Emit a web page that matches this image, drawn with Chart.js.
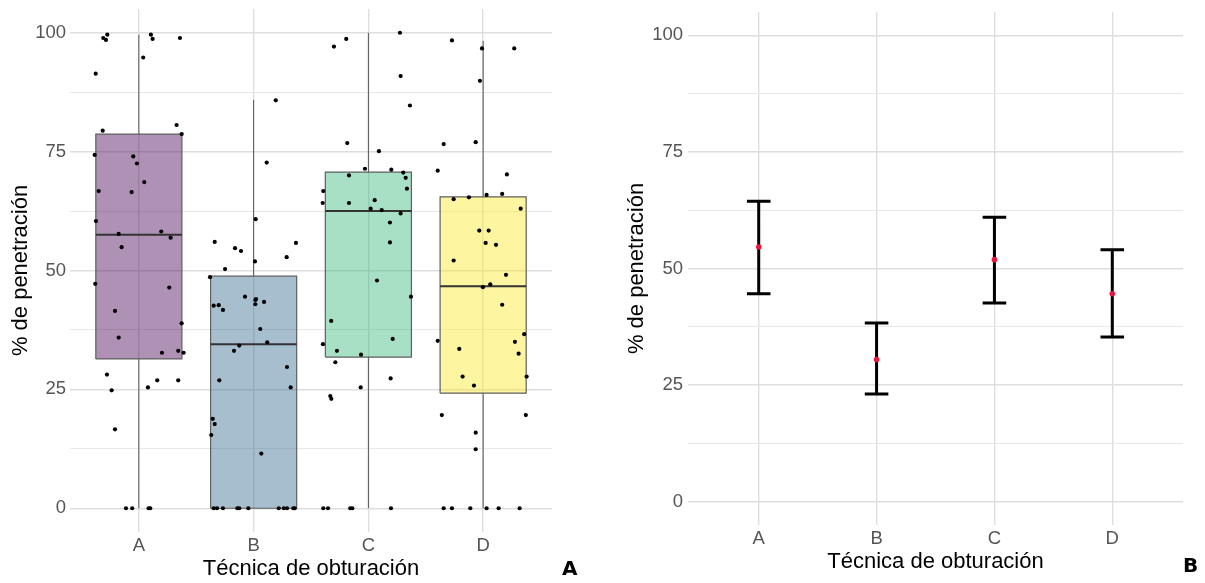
<!DOCTYPE html>
<html>
<head>
<meta charset="utf-8">
<script src="https://cdn.jsdelivr.net/npm/chart.js@4.4.1/dist/chart.umd.min.js"></script>
<style>
  html, body { margin:0; padding:0; background:#fff; }
  #wrap { position:relative; width:1205px; height:583px; overflow:hidden; }
  #c1box { position:absolute; left:0; top:0; width:590px; height:583px; }
  #c2box { position:absolute; left:600px; top:0; width:605px; height:583px; }
  .panel { position:absolute; font-family:"DejaVu Sans", sans-serif; font-weight:bold; font-size:20px; line-height:20px; color:#000; }
</style>
</head>
<body>
<div id="wrap">
  <div id="c1box"><canvas id="c1" width="590" height="583"></canvas></div>
  <div id="c2box"><canvas id="c2" width="605" height="583"></canvas></div>
  <div class="panel" style="left:562px; top:558px;">A</div>
  <div class="panel" style="left:1183px; top:555px;">B</div>
</div>
<script>
// ---------------- DATA ----------------
const categories = ['A', 'B', 'C', 'D'];
const yTickLabels = [0, 25, 50, 75, 100];
const yGridValues = [0, 12.5, 25, 37.5, 50, 62.5, 75, 87.5, 100];

// Panel A: boxplot summaries
const boxQ1     = [31.4, 0.0, 31.8, 24.2];
const boxMedian = [57.5, 34.5, 62.5, 46.7];
const boxQ3     = [78.7, 48.8, 70.7, 65.5];
const whiskerLow  = [0, 0, 0, 0];
const whiskerHigh = [99.6, 85.9, 100, 98.3];

// Panel A: jittered observations [x position, value]
const jitterA = [[0.624,91.4],[0.690,98.9],[0.725,99.6],[0.713,98.5],[1.105,99.6],[1.120,98.7],[1.358,98.9],[1.038,94.8],
  [0.685,79.4],[1.329,80.6],[1.373,78.7],[0.615,74.3],[0.951,74.0],[0.983,72.5],[1.047,68.6],[0.650,66.7],[0.937,66.5],
  [0.626,60.4],[0.824,57.7],[1.195,58.2],[1.277,56.9],[0.850,54.9],[0.620,47.2],[1.265,46.4],[0.792,41.5],[1.373,38.9],
  [0.824,35.9],[1.201,32.7],[1.343,33.1],[1.390,32.7],[0.722,28.1],[0.763,24.8],[0.792,16.6],[1.079,25.4],[1.160,26.9],
  [1.343,26.9],[0.888,0],[0.942,0],[1.085,0],[1.099,0]];
const jitterB = [[2.193,85.8],[2.114,72.7],[2.018,60.8],[1.661,56.0],[1.838,54.7],[1.890,54.1],[2.369,55.8],[2.288,52.8],
  [2.012,51.9],[1.751,50.3],[1.620,48.6],[1.925,44.5],[2.021,44.0],[1.652,42.6],[1.696,42.7],[1.733,41.7],[2.015,43.8],
  [2.015,42.9],[2.091,43.4],[2.058,37.7],[2.119,34.9],[1.829,33.1],[1.875,34.2],[1.701,26.9],[2.291,29.7],[2.323,25.4],
  [1.644,18.8],[1.661,17.7],[1.631,15.4],[2.067,11.5],[1.652,0],[1.681,0],[1.733,0],[1.858,0],[1.875,0],[1.954,0],
  [2.219,0],[2.263,0],[2.291,0],[2.346,0],[2.358,0]];
const jitterC = [[2.700,97.1],[2.807,98.7],[3.275,100],[3.281,90.9],[3.362,84.7],[2.816,76.8],[3.092,75.1],[2.970,71.4],
  [3.200,71.2],[3.304,70.6],[3.325,69.5],[3.336,67.2],[2.831,70.0],[2.607,66.7],[2.602,64.2],[2.831,64.2],[3.055,64.8],
  [3.020,63.0],[3.116,62.7],[3.281,62.0],[3.188,60.1],[3.188,55.9],[3.075,47.9],[3.371,44.5],[2.676,39.4],[2.604,34.5],
  [2.726,33.1],[2.936,32.3],[3.212,35.6],[2.712,30.7],[3.194,27.3],[2.933,25.4],[2.668,23.6],[2.677,23.0],[2.607,0],
  [2.648,0],[2.842,0],[2.860,0],[3.197,0]];
const jitterD = [[3.728,98.4],[3.990,96.7],[4.271,96.7],[3.972,89.9],[3.656,76.6],[3.935,77.0],[3.604,71.0],[4.207,70.2],
  [3.743,65.0],[3.876,65.4],[4.030,65.9],[4.166,66.1],[4.327,63.0],[3.966,58.4],[4.048,58.4],[4.022,55.8],[4.112,55.4],
  [3.743,52.1],[4.199,49.1],[4.062,47.1],[3.998,46.5],[4.166,42.8],[3.604,35.2],[3.792,33.5],[4.277,35.0],[4.358,36.6],
  [4.309,32.5],[3.821,27.7],[3.920,25.8],[4.379,27.7],[3.640,19.6],[4.372,19.6],[3.935,15.9],[3.935,12.4],[3.656,0],
  [3.728,0],[3.888,0],[4.030,0],[4.135,0],[4.318,0]];

// Panel B: mean and confidence interval
const meanValues = [54.6, 30.5, 51.9, 44.6];
const ciLow  = [44.6, 23.1, 42.6, 35.3];
const ciHigh = [64.4, 38.3, 61.0, 54.0];

// ---------------- STYLE ----------------
const boxFill = ['rgba(68,1,84,0.43)', 'rgba(49,104,142,0.43)', 'rgba(53,183,121,0.43)', 'rgba(253,231,37,0.43)'];
const BOX_HALF = 0.375;
const CAP_HALF = 0.1;
const FONT = '"Liberation Sans", Arial, sans-serif';
const tickColor = '#555555';

function makeScales(opts) {
  return {
    x: {
      type: 'linear', min: 0.4, max: 4.6,
      afterBuildTicks: s => { s.ticks = categories.map((c, i) => ({ value: i + 1 })); },
      afterFit: s => { s.height = opts.xHeight; s.paddingLeft = 0; s.paddingRight = 0; },
      ticks: { callback: (v, i) => categories[i], color: tickColor, font: { family: FONT, size: 18.5 },
               padding: opts.xTickPad, maxRotation: 0, autoSkip: false },
      grid: { color: '#DEDEDE', lineWidth: 1.4, drawTicks: false },
      border: { display: false },
      title: { display: true, text: 'Técnica de obturación', color: '#000', font: { family: FONT, size: 22 },
               padding: { top: 0, bottom: opts.xTitlePad } }
    },
    y: {
      type: 'linear', min: -5, max: 105,
      afterBuildTicks: s => { s.ticks = yGridValues.map(v => ({ value: v })); },
      afterFit: s => { s.width = opts.yWidth; s.paddingTop = 0; s.paddingBottom = 0; },
      ticks: { callback: v => (yTickLabels.includes(v) ? String(v) : ''), color: tickColor,
               font: { family: FONT, size: 18.5 }, padding: opts.yTickPad, autoSkip: false },
      grid: { color: ctx => (yTickLabels.includes(ctx.tick.value) ? '#DEDEDE' : '#E8E8E8'),
              lineWidth: ctx => (yTickLabels.includes(ctx.tick.value) ? 1.4 : 1.1), drawTicks: false },
      border: { display: false },
      title: { display: true, text: '% de penetración', color: '#000', font: { family: FONT, size: 22 },
               padding: { top: opts.yTitlePad, bottom: 0 } }
    }
  };
}

const common = {
  responsive: false, animation: false, events: [],
  plugins: { legend: { display: false }, tooltip: { enabled: false } }
};

// ---------------- PANEL A ----------------
const dsA = [];
const jitters = [jitterA, jitterB, jitterC, jitterD];
jitters.forEach(j => dsA.push({
  type: 'scatter', data: j.map(p => ({ x: p[0], y: p[1] })), order: 0,
  pointRadius: 2.1, pointBackgroundColor: '#000', pointBorderWidth: 0, showLine: false
}));
categories.forEach((c, i) => {
  const x = i + 1;
  dsA.push({ type: 'line', order: 1, data: [{ x: x - BOX_HALF, y: boxMedian[i] }, { x: x + BOX_HALF, y: boxMedian[i] }],
    borderColor: '#333', borderWidth: 2, pointRadius: 0, fill: false, tension: 0 });
  dsA.push({ type: 'line', order: 2, data: [
      { x: x - BOX_HALF, y: boxQ1[i] }, { x: x + BOX_HALF, y: boxQ1[i] },
      { x: x + BOX_HALF, y: boxQ3[i] }, { x: x - BOX_HALF, y: boxQ3[i] }, { x: x - BOX_HALF, y: boxQ1[i] }],
    borderColor: '#5f5f5f', borderWidth: 1.2, backgroundColor: boxFill[i], fill: 'shape', pointRadius: 0, tension: 0 });
  dsA.push({ type: 'line', order: 3, data: [
      { x: x, y: whiskerLow[i] }, { x: x, y: boxQ1[i] }, { x: x, y: null },
      { x: x, y: boxQ3[i] }, { x: x, y: whiskerHigh[i] }],
    borderColor: '#555', borderWidth: 1, pointRadius: 0, fill: false, spanGaps: false, tension: 0 });
});

new Chart(document.getElementById('c1'), {
  type: 'scatter',
  data: { datasets: dsA },
  options: Object.assign({}, common, {
    layout: { padding: { left: 0, right: 38, top: 9, bottom: 0 } },
    scales: makeScales({ xHeight: 51, xTickPad: 3, xTitlePad: 1, yWidth: 70, yTickPad: 4, yTitlePad: 8 })
  })
});

// ---------------- PANEL B ----------------
const barData = [];
categories.forEach((c, i) => {
  const x = i + 1;
  barData.push({ x: x, y: ciLow[i] }, { x: x, y: ciHigh[i] }, { x: x, y: null },
    { x: x - CAP_HALF, y: ciHigh[i] }, { x: x + CAP_HALF, y: ciHigh[i] }, { x: x, y: null },
    { x: x - CAP_HALF, y: ciLow[i] }, { x: x + CAP_HALF, y: ciLow[i] }, { x: x, y: null });
});
const dsB = [
  { type: 'scatter', order: 0, data: meanValues.map((m, i) => ({ x: i + 1, y: m })),
    pointRadius: 2.8, pointBackgroundColor: '#E8173E', pointBorderWidth: 0 },
  { type: 'line', order: 1, data: barData, borderColor: '#000', borderWidth: 3, pointRadius: 0,
    fill: false, spanGaps: false, tension: 0, borderCapStyle: 'butt' }
];

new Chart(document.getElementById('c2'), {
  type: 'scatter',
  data: { datasets: dsB },
  options: Object.assign({}, common, {
    layout: { padding: { left: 0, right: 22, top: 12, bottom: 0 } },
    scales: makeScales({ xHeight: 58, xTickPad: 3, xTitlePad: 8, yWidth: 88, yTickPad: 5, yTitlePad: 24 })
  })
});
</script>
</body>
</html>
